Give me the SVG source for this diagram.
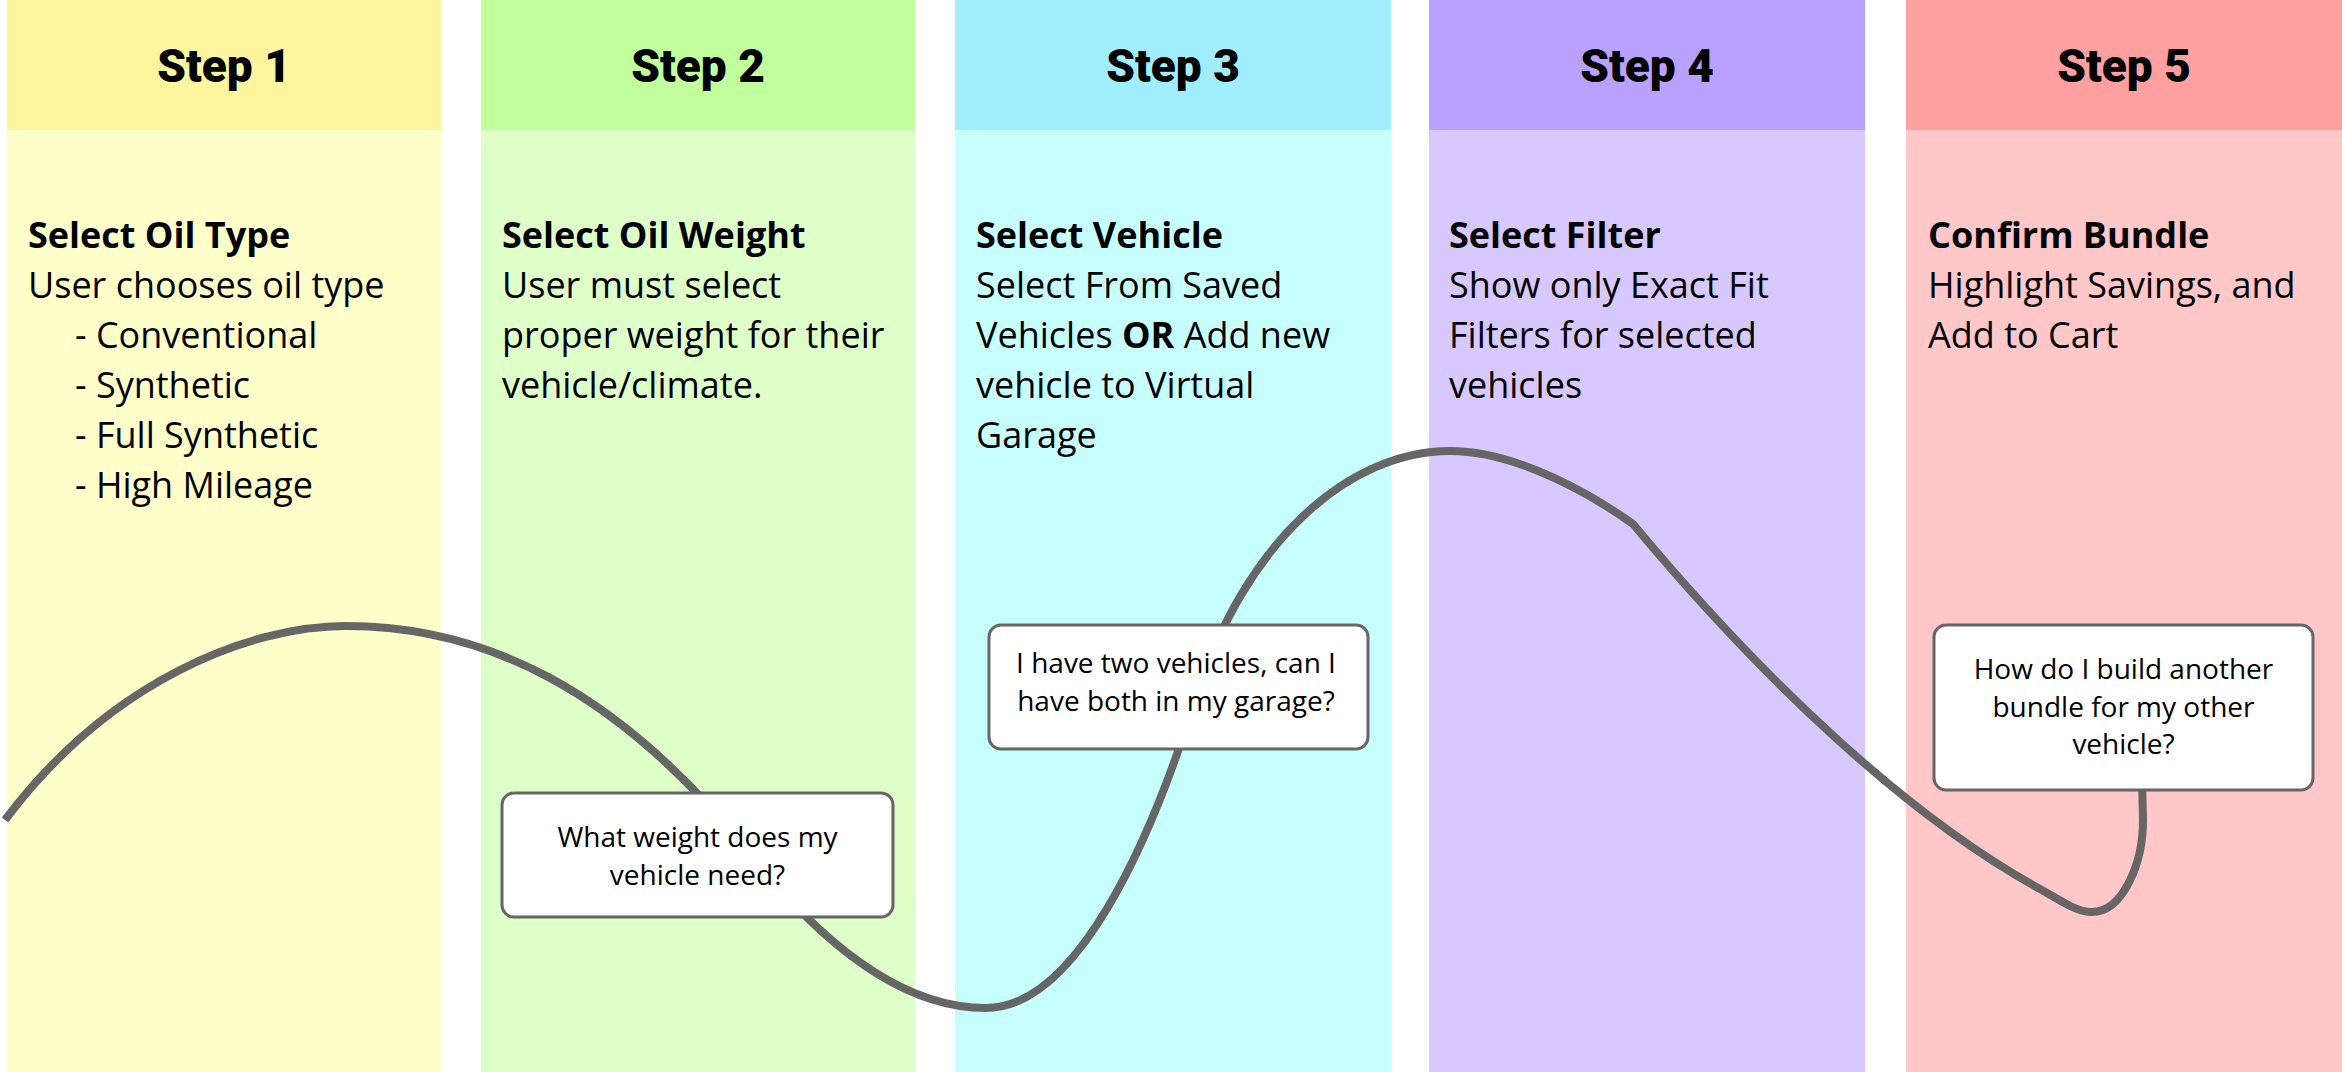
<svg xmlns="http://www.w3.org/2000/svg" width="2342" height="1072" viewBox="0 0 2342 1072">
<style>
.hd{font-family:Roboto,"Liberation Sans",sans-serif;font-weight:900;font-size:46px;fill:#000;text-anchor:middle}
.bt{font-family:"Open Sans","Liberation Sans",sans-serif;font-size:36px;fill:#000}
.b{font-weight:700}
.cb{fill:#fff;stroke:#666;stroke-width:3}
.ct{font-family:"Open Sans","Liberation Sans",sans-serif;font-size:28px;fill:#000;text-anchor:middle}
.curve{fill:none;stroke:#666;stroke-width:8}
</style>
<rect width="2342" height="1072" fill="#fff"/>
<g id="step1">
<rect x="7" y="0" width="434" height="130" fill="#FFF59F"/>
<rect x="7" y="130" width="434" height="942" fill="#FFFFCA"/>
<text class="hd" x="224" y="82">Step 1</text>
<text class="bt"><tspan class="b" x="28" y="248">Select Oil Type</tspan><tspan x="28" y="298">User chooses oil type</tspan><tspan x="75" y="348">- Conventional</tspan><tspan x="75" y="398">- Synthetic</tspan><tspan x="75" y="448">- Full Synthetic</tspan><tspan x="75" y="498">- High Mileage</tspan></text>
</g>
<g id="step2">
<rect x="481" y="0" width="434" height="130" fill="#C1FF9C"/>
<rect x="481" y="130" width="434" height="942" fill="#DFFFC8"/>
<text class="hd" x="698" y="82">Step 2</text>
<text class="bt"><tspan class="b" x="502" y="248">Select Oil Weight</tspan><tspan x="502" y="298">User must select</tspan><tspan x="502" y="348">proper weight for their</tspan><tspan x="502" y="398">vehicle/climate.</tspan></text>
</g>
<g id="step3">
<rect x="955" y="0" width="436" height="130" fill="#A0EEFF"/>
<rect x="955" y="130" width="436" height="942" fill="#C7FFFF"/>
<text class="hd" x="1173" y="82">Step 3</text>
<text class="bt"><tspan class="b" x="976" y="248">Select Vehicle</tspan><tspan x="976" y="298">Select From Saved</tspan><tspan x="976" y="348">Vehicles <tspan class="b">OR</tspan> Add new</tspan><tspan x="976" y="398">vehicle to Virtual</tspan><tspan x="976" y="448">Garage</tspan></text>
</g>
<g id="step4">
<rect x="1429" y="0" width="436" height="130" fill="#B9A1FF"/>
<rect x="1429" y="130" width="436" height="942" fill="#D7C8FF"/>
<text class="hd" x="1647" y="82">Step 4</text>
<text class="bt"><tspan class="b" x="1449" y="248">Select Filter</tspan><tspan x="1449" y="298">Show only Exact Fit</tspan><tspan x="1449" y="348">Filters for selected</tspan><tspan x="1449" y="398">vehicles</tspan></text>
</g>
<g id="step5">
<rect x="1906" y="0" width="436" height="130" fill="#FFA0A0"/>
<rect x="1906" y="130" width="436" height="942" fill="#FFC7C7"/>
<text class="hd" x="2124" y="82">Step 5</text>
<text class="bt"><tspan class="b" x="1928" y="248">Confirm Bundle</tspan><tspan x="1928" y="298">Highlight Savings, and</tspan><tspan x="1928" y="348">Add to Cart</tspan></text>
</g>
<g id="connectors">
<path class="curve" d="M5,820 C110,680 250,626 346,626 C481,626 616,686 751,855 C829,952.5 908,1008 986,1008 C1076,1008 1150,844 1195,700 C1245,540 1350,451 1450,451 C1520,451 1598,499 1633,524 C1763,680 1907,816 2040,889 C2057,898 2075,912 2092,912 C2122,912 2143,865 2143,820 L2142,780"/>
</g>
<g id="q1">
<rect class="cb" x="502" y="793" width="391" height="124" rx="12"/>
<text class="ct"><tspan x="697.5" y="847">What weight does my</tspan><tspan x="697.5" y="885">vehicle need?</tspan></text>
</g>
<g id="q2">
<rect class="cb" x="989" y="625" width="379" height="124" rx="12"/>
<text class="ct"><tspan x="1176" y="673">I have two vehicles, can I</tspan><tspan x="1176" y="711">have both in my garage?</tspan></text>
</g>
<g id="q3">
<rect class="cb" x="1934" y="625" width="379" height="165" rx="12"/>
<text class="ct"><tspan x="2123.5" y="679">How do I build another</tspan><tspan x="2123.5" y="717">bundle for my other</tspan><tspan x="2123.5" y="754">vehicle?</tspan></text>
</g>
</svg>
